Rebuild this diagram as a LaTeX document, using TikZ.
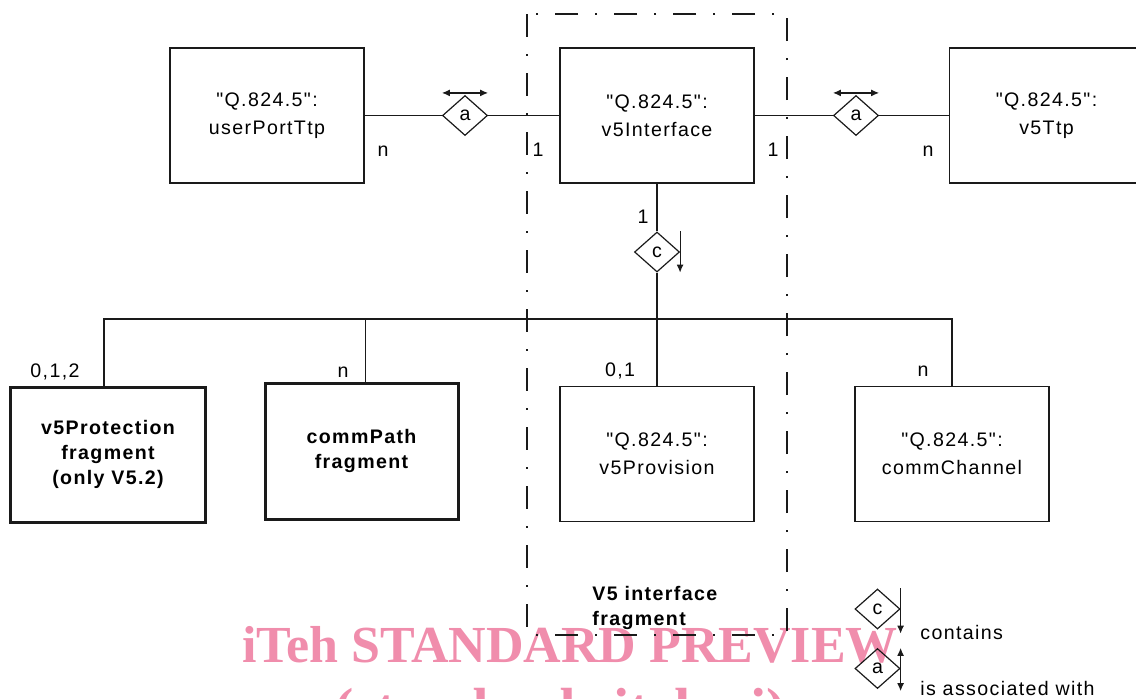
\documentclass[tikz,border=0pt]{standalone}
\usepackage{fontspec}
\setmainfont{Liberation Sans}
\newfontfamily\diagfont[LetterSpace=7]{Liberation Sans}
\newfontfamily\wmfont{Liberation Serif}
\usetikzlibrary{arrows.meta, positioning, shapes.geometric, calc}
\definecolor{ink}{HTML}{1A1A1A}
\definecolor{wmpink}{HTML}{F08DAC}

\begin{document}
\begin{tikzpicture}[
  x=0.5pt, y=-0.5pt,
  moc/.style={rectangle, draw=ink, line width=0.65pt, minimum width=97pt,
              minimum height=67.5pt, inner sep=0pt, align=center,
              font=\diagfont\fontsize{9.8}{14}\selectfont},
  frag/.style={moc, line width=1.5pt, minimum width=97.5pt,
               font=\diagfont\fontsize{9.8}{12.5}\selectfont\bfseries},
  rel/.style={diamond, draw=ink, line width=0.6pt, minimum width=22.5pt,
              minimum height=20pt, inner sep=0pt,
              font=\diagfont\fontsize{9.8}{11}\selectfont},
  card/.style={anchor=base, inner sep=0pt, font=\diagfont\fontsize{9.8}{11}\selectfont},
  link/.style={draw=ink, line width=0.6pt},
  assoc/.style={link, {Latex[length=4pt,width=3.5pt]}-{Latex[length=4pt,width=3.5pt]}},
  contain/.style={link, -{Latex[length=4pt,width=3.5pt]}}
]
  \useasboundingbox (0,0) rectangle (1136,698);
  \clip (0,0) rectangle (1136,698);

  % watermark
  \node[anchor=base, text=wmpink, font=\wmfont\bfseries\fontsize{26}{26}\selectfont,
        inner sep=0pt] (wm1) at (570,662) {iTeh STANDARD PREVIEW};
  \node[anchor=base, text=wmpink, font=\wmfont\bfseries\fontsize{29}{29}\selectfont,
        inner sep=0pt] (wm2) at (560,728) {(standards.iteh.ai)};

  % fragment boundary
  \draw[ink, line width=0.6pt, dash pattern=on 11.5pt off 8.5pt on 1pt off 8.5pt]
    (527,14) rectangle (787,635);
  \node[anchor=north west, inner sep=0pt, align=left,
        font=\diagfont\fontsize{9.8}{12.5}\selectfont\bfseries] (fraglbl) at (592,586)
    {V5 interface\\fragment};

  % managed objects
  \node[moc] (userport) at (267,115.5) {"Q.824.5":\\userPortTtp};
  \node[moc] (iface) at (657,115.5) {"Q.824.5":\\v5Interface};
  \node[moc] (ttp) at (1046.5,115.5) {"Q.824.5":\\v5Ttp};
  \node[frag, minimum height=67.5pt] (prot) at (108,454.5) {v5Protection\\fragment\\(only V5.2)};
  \node[frag, minimum width=96.5pt, minimum height=68pt] (path) at (361.5,451) {commPath\\fragment};
  \node[moc] (prov) at (657,454) {"Q.824.5":\\v5Provision};
  \node[moc] (chan) at (952,454) {"Q.824.5":\\commChannel};

  % relationships
  \node[rel] (assocL) at (465,115.5) {a};
  \node[rel] (assocR) at (856,115.5) {a};
  \node[rel] (contC) at (657,252) {c};
  \coordinate (bus) at (657,319);

  \draw[link] (userport.east) -- (assocL.west);
  \draw[link] (assocL.east) -- (iface.west);
  \draw[link] (iface.east) -- (assocR.west);
  \draw[link] (assocR.east) -- (ttp.west);
  \draw[link] (iface.south) -- (contC.north);
  \draw[link] (contC.south) -- (prov.north);
  \draw[link] ([xshift=-2pt]prot.north) |- (chan.north |- bus) -- (chan.north);
  \draw[link] ([xshift=2pt]path.north) -- ([xshift=2pt]path.north |- bus);

  \draw[assoc] ([yshift=1pt]assocL.west |- assocL.north) -- ([yshift=1pt]assocL.east |- assocL.north);
  \draw[assoc] ([yshift=1pt]assocR.west |- assocR.north) -- ([yshift=1pt]assocR.east |- assocR.north);
  \draw[contain] (contC.east |- contC.north) -- (contC.east |- contC.south);

  % cardinalities
  \node[card] (cUser) at (383,156) {n};
  \node[card] (cIfaceL) at (538,156) {1};
  \node[card] (cIfaceR) at (773,156) {1};
  \node[card] (cTtp) at (928,156) {n};
  \node[card] (cIfaceD) at (643,223) {1};
  \node[card] (cProt) at (55,377) {0,1,2};
  \node[card] (cPath) at (343,377) {n};
  \node[card] (cProv) at (620,376) {0,1};
  \node[card] (cChan) at (923,376) {n};

  % legend
  \node[rel] (legC) at (877.5,609) {c};
  \node[rel] (legA) at (877.5,668.5) {a};
  \draw[contain] (legC.east |- legC.north) -- ([yshift=-2pt]legC.east |- legC.south);
  \draw[assoc] (legA.east |- legA.north) -- ([yshift=-1pt]legA.east |- legA.south);
  \node[card, anchor=base west] (legCtxt) at (920,639) {contains};
  \node[card, anchor=base west] (legAtxt) at (920,695) {is associated with};
\end{tikzpicture}
\end{document}
